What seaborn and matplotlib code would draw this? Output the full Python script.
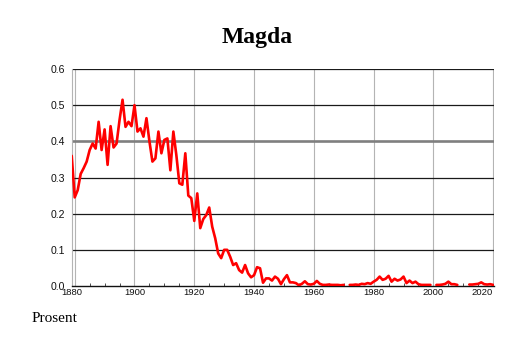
import numpy as np
import pandas as pd
import seaborn as sns
import matplotlib.pyplot as plt
import matplotlib.transforms as mtransforms

# Share of the population named Magda, per year (percent); NaN = no record
years = list(range(1879, 2021))
share = [
    0.36, 0.245, 0.265, 0.31, 0.326, 0.344, 0.376, 0.394, 0.38, 0.454,   # 1879-1888
    0.376, 0.433, 0.335, 0.442, 0.383, 0.394, 0.459, 0.515, 0.44, 0.454,  # 1889-1898
    0.442, 0.50, 0.427, 0.436, 0.413, 0.464, 0.40, 0.344, 0.353, 0.427,  # 1899-1908
    0.367, 0.404, 0.408, 0.32, 0.427, 0.362, 0.284, 0.28, 0.367, 0.25,   # 1909-1918
    0.243, 0.18, 0.256, 0.16, 0.185, 0.196, 0.217, 0.164, 0.132, 0.09,   # 1919-1928
    0.077, 0.10, 0.10, 0.081, 0.058, 0.063, 0.044, 0.037, 0.058, 0.035,  # 1929-1938
    0.024, 0.03, 0.052, 0.049, 0.009, 0.021, 0.021, 0.015, 0.026, 0.02,  # 1939-1948
    0.005, 0.019, 0.03, 0.01, 0.01, 0.008, 0.002, 0.006, 0.013, 0.005,   # 1949-1958
    0.004, 0.006, 0.014, 0.006, 0.003, 0.003, 0.004, 0.003, 0.003, 0.003,  # 1959-1968
    0.002, 0.003, np.nan, 0.003, 0.003, 0.004, 0.003, 0.006, 0.005, 0.008,  # 1969-1978
    0.006, 0.012, 0.017, 0.026, 0.017, 0.02, 0.028, 0.012, 0.02, 0.015,  # 1979-1988
    0.018, 0.026, 0.008, 0.015, 0.008, 0.012, 0.005, 0.003, 0.003, 0.003,  # 1989-1998
    0.003, np.nan, 0.003, 0.003, 0.004, 0.006, 0.012, 0.005, 0.005, 0.003,  # 1999-2008
    np.nan, np.nan, np.nan, 0.004, 0.004, 0.005, 0.006, 0.01, 0.005, 0.004,  # 2009-2018
    0.005, 0.003,                                                        # 2019-2020
]

y_ticks = [0.0, 0.1, 0.2, 0.3, 0.4, 0.5, 0.6]
y_labels = ["0.0", "0.1", "0.2", "0.3", "0.4", "0.5", "0.6"]
x_ticks = [1880, 1900, 1920, 1940, 1960, 1980, 2000, 2020]
x_labels = ["1880", "1900", "1920", "1940", "1960", "1980", "2000", "2020"]

df = pd.DataFrame({"year": years, "share": share})
# break the line where a year has no value
df["run"] = df["share"].isna().cumsum()
df = df.dropna()

sns.set_theme(style="white")
plt.rcParams["font.family"] = ["Liberation Sans", "DejaVu Sans"]

fig = plt.figure(figsize=(5.14, 3.43), dpi=100)
ax = fig.add_axes([0.1407, 0.1662, 0.8200, 0.6326])

# grid: grey verticals, black horizontals (0.4 drawn heavier grey)
for x in x_ticks:
    ax.axvline(x, color="#b4b4b4", lw=0.8, zorder=1)
for y in y_ticks[1:]:
    if y == 0.4:
        ax.axhline(y, color="#7f7f7f", lw=1.9, zorder=1)
    else:
        ax.axhline(y, color="#1a1a1a", lw=0.9, zorder=1)

sns.lineplot(data=df, x="year", y="share", units="run", estimator=None,
             color="#ff0000", lw=1.9, ax=ax, zorder=3, legend=False)

ax.set_xlim(1879.2, 2020.2)
ax.set_ylim(0, 0.6)
ax.set_xticks(x_ticks)
ax.set_xticklabels(x_labels)
ax.set_yticks(y_ticks)
ax.set_yticklabels(y_labels)
ax.set_xticks(range(1885, 2020, 5), minor=True)
ax.tick_params(axis="x", which="major", length=0, pad=1.5, labelsize=6.8,
               labelcolor="#111111")
ax.tick_params(axis="x", which="minor", direction="in", length=2.5,
               width=0.6, color="#333333", bottom=True)
ax.tick_params(axis="y", length=0, pad=5, labelsize=7.6, labelcolor="#111111")
ax.set_xlabel("")
ax.set_ylabel("")

for s in ("top", "right"):
    ax.spines[s].set_visible(False)
ax.spines["left"].set_color("#b4b4b4")
ax.spines["left"].set_linewidth(0.8)
ax.spines["bottom"].set_color("#111111")
ax.spines["bottom"].set_linewidth(1.0)

# nudge the end labels inwards
labels = ax.get_xticklabels()
labels[0].set_transform(labels[0].get_transform() +
                        mtransforms.ScaledTranslation(-2.5 / 100, 0, fig.dpi_scale_trans))
labels[-1].set_horizontalalignment("right")

fig.text(0.5, 0.892, "Magda", ha="center", va="center", color="black",
         family=["Liberation Serif", "DejaVu Serif"], fontweight="bold", fontsize=17)
fig.text(0.062, 0.062, "Prosent", ha="left", va="baseline", color="black",
         family=["Liberation Serif", "DejaVu Serif"], fontsize=11)

fig.savefig("out.png", dpi=100, facecolor="white")
